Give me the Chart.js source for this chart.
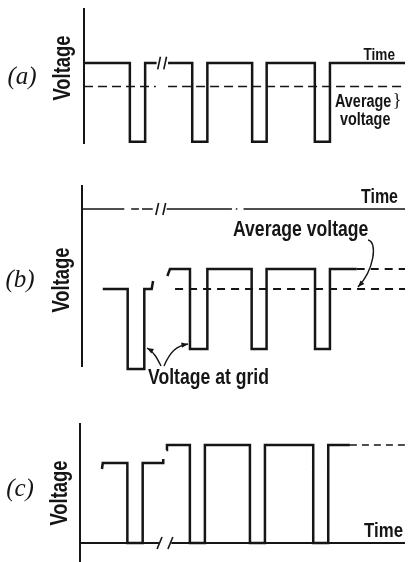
<!DOCTYPE html>
<html>
<head>
<meta charset="utf-8">
<script src="https://cdn.jsdelivr.net/npm/chart.js@4"></script>
<style>
  html, body { margin: 0; padding: 0; background: #fff; }
  #wrap { position: relative; width: 412px; height: 562px; overflow: hidden; }
  .panel { position: absolute; left: 0; width: 412px; }
</style>
</head>
<body>
<div id="wrap">
  <div class="panel" style="top:0;height:165px"><canvas id="chartA"></canvas></div>
  <div class="panel" style="top:165px;height:235px"><canvas id="chartB"></canvas></div>
  <div class="panel" style="top:400px;height:162px"><canvas id="chartC"></canvas></div>
</div>
<script>
// (a) pulses below the time axis
const timeA = [0, 3.0, 3.0, 4.0, 4.0, 4.75, 5.1, 5.5, 7.08, 7.08, 8.07, 8.07, 11.0, 11.0, 11.95, 11.95, 15.1, 15.1, 16.09, 16.09, 21.0];
const voltA = [0, 0, -1, -1, 0, 0, null, 0, 0, -1, -1, 0, 0, -1, -1, 0, 0, -1, -1, 0, 0];
const avgTimeA = [0, 4.7, 5.1, 5.5, 21];
const avgVoltA = [-0.3, -0.3, null, -0.3, -0.3];
const breakTimeA = [4.82, 5.0, 5.1, 5.22, 5.4];
const breakVoltA = [-0.08, 0.08, null, -0.08, 0.08];
const axisVoltA = [0.7, -1.03];

// (b) waveform shifted down by the grid
const timeB = [1.35, 2.97, 2.97, 4.05, 4.05, 4.53, 4.62, 5.1, 5.55, 5.72, 7.02, 7.02, 8.15, 8.15, 11.03, 11.03, 12.0, 12.0, 15.15, 15.15, 16.12, 16.12, 17.86];
const voltB = [-4, -4, -8, -8, -4, -4, -3.6, null, -3.35, -3, -3, -7, -7, -3, -3, -7, -7, -3, -3, -7, -7, -3, -3];
const tailTimeB = [17.86, 21];
const tailVoltB = [-3, -3];
const avgTimeB = [6.05, 21];
const avgVoltB = [-4, -4];
const axisTimeB = [0, 2.75, 2.9, 3.2, 3.7, 3.8, 3.9, 4.6, 5.0, 5.5, 9.75, 9.9, 10.0, 10.1, 10.3, 10.5, 21];
const axisVoltB = [0, 0, null, 0, 0, null, 0, 0, null, 0, 0, null, 0, 0, null, 0, 0];
const breakTimeB = [4.8, 4.98, 5.1, 5.26, 5.44];
const breakVoltB = [-0.3, 0.3, null, -0.3, 0.3];
const axisVoltB2 = [1.2, -7.9];

// (c) clamped at zero
const timeC = [1.42, 1.47, 3.06, 3.06, 4.05, 4.05, 5.38, 5.38, 5.5, 5.58, 5.62, 7.1, 7.1, 8.07, 8.07, 10.98, 10.98, 11.95, 11.95, 15.07, 15.07, 16.04, 16.04, 17.44];
const voltC = [3.7, 4, 4, 0, 0, 4, 4, 4.2, null, 4.65, 4.9, 4.9, 0, 0, 4.9, 4.9, 0, 0, 4.9, 4.9, 0, 0, 4.9, 4.9];
const tailTimeC = [17.44, 21];
const tailVoltC = [4.9, 4.9];
const axisTimeC = [0, 5.1, 5.5, 5.9, 21];
const axisVoltC = [0, 0, null, 0, 0];
const breakTimeC = [4.98, 5.3, 5.5, 5.68, 6.0];
const breakVoltC = [-0.3, 0.3, null, -0.3, 0.3];
const axisVoltC2 = [6, -0.95];

const INK = '#151515';
const SANS = '"Liberation Sans", Arial, sans-serif';
const SERIF = '"Liberation Serif", "DejaVu Serif", serif';
const NARROW = 0.8; // squeeze the sans text to look like the condensed gothic of the original

function pts(ts, vs) {
  return ts.map((t, i) => ({ x: t, y: vs[i] }));
}

function line(ts, vs, width, dash) {
  return {
    data: pts(ts, vs),
    borderColor: INK,
    borderWidth: width,
    borderDash: dash || [],
    pointRadius: 0,
    tension: 0,
    fill: false,
    clip: false,
    spanGaps: false,
    borderCapStyle: 'butt',
    borderJoinStyle: 'miter'
  };
}

// texts and arrows around the curves
const notes = {
  id: 'notes',
  afterDraw(chart, args, opts) {
    const ctx = chart.ctx;
    ctx.save();
    ctx.fillStyle = INK;
    ctx.strokeStyle = INK;
    (opts.texts || []).forEach((n) => {
      ctx.save();
      ctx.font = n.font;
      ctx.textAlign = n.align || 'left';
      ctx.textBaseline = n.baseline || 'alphabetic';
      ctx.translate(n.x, n.y);
      if (n.rotate) ctx.rotate(n.rotate);
      ctx.scale(n.squeeze || 1, 1);
      ctx.fillText(n.text, 0, 0);
      ctx.restore();
    });
    ctx.lineWidth = 1.4;
    (opts.arrows || []).forEach((p) => {
      const [x0, y0, c1x, c1y, c2x, c2y, x1, y1] = p;
      ctx.beginPath();
      ctx.moveTo(x0, y0);
      ctx.bezierCurveTo(c1x, c1y, c2x, c2y, x1, y1);
      ctx.stroke();
      const ang = Math.atan2(y1 - c2y, x1 - c2x);
      ctx.beginPath();
      ctx.moveTo(x1, y1);
      ctx.lineTo(x1 - 7 * Math.cos(ang - 0.38), y1 - 7 * Math.sin(ang - 0.38));
      ctx.lineTo(x1 - 7 * Math.cos(ang + 0.38), y1 - 7 * Math.sin(ang + 0.38));
      ctx.closePath();
      ctx.fill();
    });
    ctx.restore();
  }
};

function makeChart(id, datasets, yMin, yMax, padding, noteOpts) {
  return new Chart(document.getElementById(id), {
    type: 'line',
    data: { datasets: datasets },
    options: {
      responsive: true,
      maintainAspectRatio: false,
      animation: false,
      layout: { padding: padding },
      plugins: {
        legend: { display: false },
        tooltip: { enabled: false },
        notes: noteOpts
      },
      scales: {
        x: { type: 'linear', min: 0, max: 21, display: false },
        y: { type: 'linear', min: yMin, max: yMax, display: false }
      }
    },
    plugins: [notes]
  });
}

const labelFont = 'italic 25px ' + SERIF;
const axisFont = 'bold 23px ' + SANS;

makeChart('chartA', [
  line([0, 0], axisVoltA, 2),
  line(timeA, voltA, 2.5),
  line(avgTimeA, avgVoltA, 1.5, [9, 5]),
  line(breakTimeA, breakVoltA, 1.6)
], -1.03, 0.7, { left: 84, right: 7, top: 8, bottom: 21 }, {
  texts: [
    { text: '(a)', x: 22, y: 77, font: labelFont, align: 'center', baseline: 'middle' },
    { text: 'Voltage', x: 64, y: 68, font: axisFont, align: 'center', baseline: 'middle', rotate: -Math.PI / 2, squeeze: NARROW },
    { text: 'Time', x: 395, y: 60, font: 'bold 17px ' + SANS, align: 'right', squeeze: NARROW },
    { text: 'Average', x: 335, y: 107, font: 'bold 18px ' + SANS, squeeze: NARROW },
    { text: 'voltage', x: 340, y: 125, font: 'bold 18px ' + SANS, squeeze: NARROW },
    { text: '}', x: 397, y: 101, font: '18px ' + SERIF, align: 'center', baseline: 'middle' }
  ]
});

makeChart('chartB', [
  line([0, 0], axisVoltB2, 2),
  line(axisTimeB, axisVoltB, 1.3),
  line(breakTimeB, breakVoltB, 1.6),
  line(timeB, voltB, 2.5),
  line(tailTimeB, tailVoltB, 1.8, [8, 6]),
  line(avgTimeB, avgVoltB, 1.8, [8, 6])
], -8.3, 1.2, { left: 82, right: 7, top: 20, bottom: 25 }, {
  texts: [
    { text: '(b)', x: 20, y: 115, font: labelFont, align: 'center', baseline: 'middle' },
    { text: 'Voltage', x: 63, y: 115, font: axisFont, align: 'center', baseline: 'middle', rotate: -Math.PI / 2, squeeze: NARROW },
    { text: 'Time', x: 398, y: 38, font: 'bold 20px ' + SANS, align: 'right', squeeze: NARROW },
    { text: 'Average voltage', x: 233, y: 71, font: 'bold 22px ' + SANS, squeeze: NARROW },
    { text: 'Voltage at grid', x: 148, y: 219, font: 'bold 22px ' + SANS, squeeze: NARROW }
  ],
  arrows: [
    [368, 75, 378, 77, 374, 105, 358, 122],
    [161, 201, 157, 193, 154, 187, 147, 183],
    [164, 201, 170, 187, 176, 181, 188, 179]
  ]
});

makeChart('chartC', [
  line([0, 0], axisVoltC2, 2),
  line(axisTimeC, axisVoltC, 1.8),
  line(breakTimeC, breakVoltC, 1.6),
  line(timeC, voltC, 2.5),
  line(tailTimeC, tailVoltC, 1.6, [7, 5])
], -0.95, 6, { left: 80, right: 7, top: 23, bottom: 0 }, {
  texts: [
    { text: '(c)', x: 20, y: 89, font: labelFont, align: 'center', baseline: 'middle' },
    { text: 'Voltage', x: 61, y: 93, font: axisFont, align: 'center', baseline: 'middle', rotate: -Math.PI / 2, squeeze: NARROW },
    { text: 'Time', x: 403, y: 137, font: 'bold 21px ' + SANS, align: 'right', squeeze: NARROW }
  ]
});
</script>
</body>
</html>
